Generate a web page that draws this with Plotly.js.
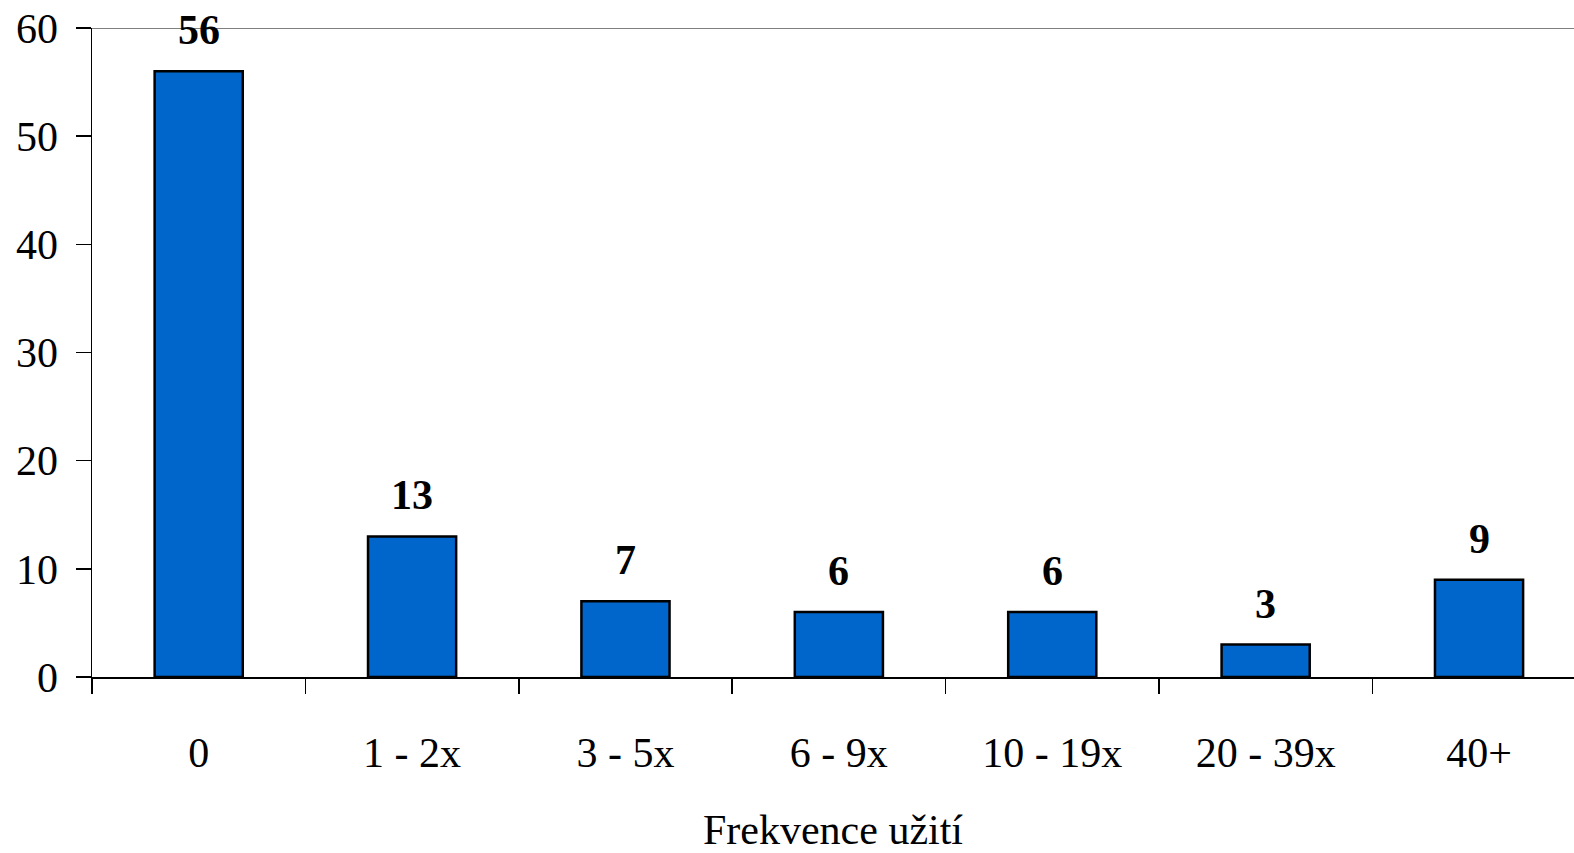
<!DOCTYPE html>
<html>
<head>
<meta charset="utf-8">
<script src="https://cdn.plot.ly/plotly-3.0.1.min.js"></script>
<style>html,body{margin:0;padding:0;overflow:hidden;background:#fff;}</style>
</head>
<body>
<div id="chart" style="width:1574px;height:853px;"></div>
<script>
const categories = ["0", "1 - 2x", "3 - 5x", "6 - 9x", "10 - 19x", "20 - 39x", "40+"];
const values = [56, 13, 7, 6, 6, 3, 9];
const yTicks = [0, 10, 20, 30, 40, 50, 60];
const xTitle = "Frekvence užití";

const font = "Liberation Serif, Times New Roman, serif";

const trace = {
  type: "bar",
  x: categories,
  y: values,
  width: 0.413,
  marker: {color: "#0066CC", line: {color: "#000000", width: 2.5}},
  hoverinfo: "x+y"
};

const annotations = categories.map((c, i) => ({
  x: c, y: values[i], xref: "x", yref: "y",
  text: "<b>" + values[i] + "</b>",
  showarrow: false, yanchor: "bottom", yshift: 16,
  font: {family: font, size: 42, color: "#000"}
}));

const layout = {
  width: 1574, height: 853,
  margin: {l: 92, r: 0, t: 28, b: 176},
  paper_bgcolor: "#fff", plot_bgcolor: "#fff",
  showlegend: false,
  font: {family: font, size: 42, color: "#000"},
  xaxis: {
    type: "category",
    range: [-0.5, 6.445],
    tickson: "boundaries",
    ticks: "outside", ticklen: 15, tickwidth: 1.5, tickcolor: "#000",
    showline: true, linecolor: "#000", linewidth: 1.5,
    showgrid: false, zeroline: false,
    ticklabelstandoff: 38,
    tickfont: {family: font, size: 42, color: "#000"},
    title: {text: xTitle, font: {family: font, size: 42, color: "#000"}, standoff: 40}
  },
  yaxis: {
    range: [0, 60],
    tickvals: yTicks,
    ticks: "outside", ticklen: 15, tickwidth: 1.5, tickcolor: "#000",
    showline: true, linecolor: "#000", linewidth: 1.5,
    showgrid: false, zeroline: false,
    ticklabelstandoff: 9,
    tickfont: {family: font, size: 42, color: "#000"}
  },
  shapes: [{
    type: "line", xref: "paper", yref: "y", x0: 0, x1: 1, y0: 60, y1: 60,
    line: {color: "#808080", width: 2}
  }],
  annotations: annotations
};

Plotly.newPlot("chart", [trace], layout, {displayModeBar: false, staticPlot: true});
</script>
</body>
</html>
